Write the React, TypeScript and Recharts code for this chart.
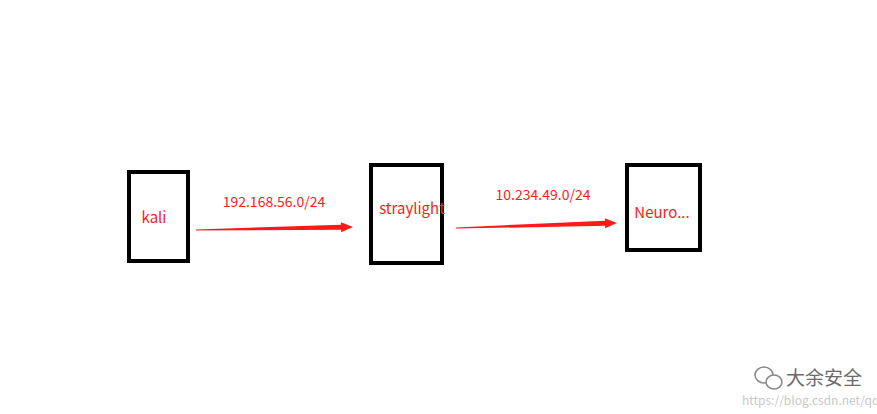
import React from "react";
import { ScatterChart, XAxis, YAxis, Scatter } from "recharts";

// boxes and arrows in pixel-space data units (domain matches the 877x414 plot, so 1 unit = 1 px)
const nodes = [
  { name: "kali", x: 129, y: 172, x2: 188, y2: 261, lx: 154, ly: 216 },
  { name: "straylight", x: 371, y: 165, x2: 442, y2: 263, lx: 412, ly: 207 },
  { name: "Neuro...", x: 627, y: 165, x2: 700, y2: 250, lx: 662, ly: 211 },
];

const links = [
  { label: "192.168.56.0/24", x: 196, y: 230, x2: 353, y2: 227, lx: 274, ly: 201 },
  { label: "10.234.49.0/24", x: 456, y: 228, x2: 617, y2: 223, lx: 543, ly: 194 },
];

const labels = [
  ...nodes.map((n) => ({ x: n.lx, y: n.ly, text: n.name, size: 15 })),
  ...links.map((l) => ({ x: l.lx, y: l.ly, text: l.label, size: 14 })),
];

const watermark = [{ x: 822, y: 377 }];

const RED = "#ff1a1a";
const FONT = "'Noto Sans CJK SC', 'Noto Sans', sans-serif";

function Box(props: any) {
  const { cx, cy, payload } = props;
  return (
    <rect x={cx} y={cy} width={payload.x2 - payload.x} height={payload.y2 - payload.y}
      fill="#fff" stroke="#000" strokeWidth={4} />
  );
}

function Arrow(props: any) {
  const { cx: x1, cy: y1, payload } = props;
  const x2 = x1 + (payload.x2 - payload.x);
  const y2 = y1 + (payload.y2 - payload.y);
  const dx = x2 - x1, dy = y2 - y1;
  const len = Math.hypot(dx, dy);
  const ux = dx / len, uy = dy / len;
  const nx = -uy, ny = ux;
  const bx = x2 - ux * 12, by = y2 - uy * 12;
  const pts = [
    [x1 + nx * 0.6, y1 + ny * 0.6],
    [bx + nx * 2.5, by + ny * 2.5],
    [bx + nx * 5, by + ny * 5],
    [x2, y2],
    [bx - nx * 5, by - ny * 5],
    [bx - nx * 2.5, by - ny * 2.5],
    [x1 - nx * 0.6, y1 - ny * 0.6],
  ];
  return <polygon points={pts.map((p) => p.join(",")).join(" ")} fill={RED} />;
}

function Label(props: any) {
  const { cx, cy, payload } = props;
  return (
    <text x={cx} y={cy} textAnchor="middle" dominantBaseline="central"
      fontSize={payload.size} fill={RED} fontFamily={FONT}>{payload.text}</text>
  );
}

function Watermark(props: any) {
  const { cx, cy } = props;
  return (
    <g>
      <ellipse cx={cx - 58} cy={cy - 2} rx={9} ry={8} fill="none" stroke="#8a8a8a" strokeWidth={1.6} />
      <ellipse cx={cx - 48} cy={cy + 5} rx={8} ry={7} fill="#fff" stroke="#8a8a8a" strokeWidth={1.6} />
      <text x={cx - 36} y={cy + 8} fontSize={19} fill="#6b6b6b" fontFamily={FONT}>大余安全</text>
      <text x={cx - 80} y={cy + 28} fontSize={12} fill="#c8c8c8" fontFamily={FONT}>https://blog.csdn.net/qq_34801745</text>
    </g>
  );
}

export default function App() {
  return (
    <div style={{ position: "absolute", left: 0, top: 0, width: 877, height: 414, background: "#fff" }}>
      <ScatterChart width={877} height={414} margin={{ top: 0, right: 0, bottom: 0, left: 0 }}>
        <XAxis type="number" dataKey="x" domain={[0, 877]} hide allowDataOverflow />
        <YAxis type="number" dataKey="y" domain={[0, 414]} reversed hide allowDataOverflow width={0} />
        <Scatter data={links} shape={(p: any) => <Arrow {...p} />} isAnimationActive={false} />
        <Scatter data={nodes} shape={(p: any) => <Box {...p} />} isAnimationActive={false} />
        <Scatter data={labels} shape={(p: any) => <Label {...p} />} isAnimationActive={false} />
        <Scatter data={watermark} shape={(p: any) => <Watermark {...p} />} isAnimationActive={false} />
      </ScatterChart>
    </div>
  );
}
